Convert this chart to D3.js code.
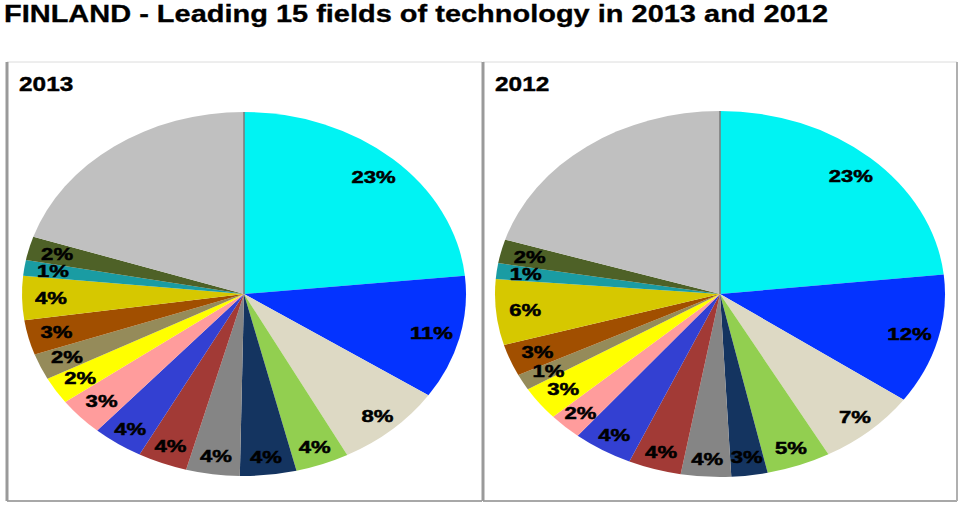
<!DOCTYPE html>
<html>
<head>
<meta charset="utf-8">
<script src="https://cdn.jsdelivr.net/npm/d3@7"></script>
<style>
  body { margin: 0; background: #fff; }
  svg { display: block; font-family: "Liberation Sans", Arial, sans-serif; }
</style>
</head>
<body>
<svg width="960" height="506"></svg>
<script>
// fields in drawing order, clockwise from 12 o'clock; the last one is the unlabelled rest
const fields = ['f1', 'f2', 'f3', 'f4', 'f5', 'f6', 'f7', 'f8', 'f9', 'f10', 'f11', 'f12', 'f13', 'f14', 'f15', 'other'];
const colors = ['#00F3F3', '#0433FF', '#DDD9C4', '#92CF50', '#143460', '#858585', '#A23A36', '#3340D2', '#FF9C9C', '#FFFF00',
  '#958B5A', '#A14F00', '#D6C800', '#1A9CA3', '#4E6127', '#C0C0C0'];

// shares in percent
const values2013 = [23.4, 11.0, 7.9, 3.9, 4.1, 3.9, 3.6, 3.7, 3.4, 2.4, 2.3, 3.1, 3.9, 1.4, 2.1, 19.9];
const values2012 = [23.3, 11.5, 7.2, 4.6, 2.6, 3.6, 3.8, 4.3, 2.4, 3.0, 1.4, 2.8, 5.8, 1.4, 2.1, 20.2];

const title = 'FINLAND - Leading 15 fields of technology in 2013 and 2012';
const years = ['2013', '2012'];

const svg = d3.select('svg');

svg.append('text')
  .attr('x', 4).attr('y', 22)
  .attr('font-size', 23).attr('font-weight', 'bold')
  .attr('stroke', '#000').attr('stroke-width', 0.3)
  .attr('textLength', 824).attr('lengthAdjust', 'spacingAndGlyphs')
  .text(title);

const panels = [
  {year: years[0], values: values2013, x0: 7, x1: 482, cx: 244, cy: 294, rx: 222, ry: 182},
  {year: years[1], values: values2012, x0: 483, x1: 957, cx: 720, cy: 294, rx: 225, ry: 183},
];

const pie = d3.pie().sort(null).value(d => d.v);

panels.forEach((p, pi) => {
  const top = 62, bottom = 501;
  const g = svg.append('g');

  // panel frame
  g.append('line').attr('x1', p.x0).attr('x2', p.x1).attr('y1', top).attr('y2', top)
    .attr('stroke', '#dcdcdc').attr('stroke-width', 1);
  g.append('line').attr('x1', p.x0).attr('x2', p.x1).attr('y1', bottom).attr('y2', bottom)
    .attr('stroke', '#a8a8a8').attr('stroke-width', 2);
  g.append('line').attr('x1', p.x0).attr('x2', p.x0).attr('y1', top).attr('y2', bottom)
    .attr('stroke', '#9a9a9a').attr('stroke-width', 3);
  if (pi === 1) {
    g.append('line').attr('x1', p.x1).attr('x2', p.x1).attr('y1', top).attr('y2', bottom)
      .attr('stroke', '#b0b0b0').attr('stroke-width', 2);
  }

  g.append('text')
    .attr('transform', `translate(${p.x0 + 12}, 91) scale(1.22, 1)`)
    .attr('font-size', 20).attr('font-weight', 'bold')
    .attr('stroke', '#000').attr('stroke-width', 0.4)
    .text(p.year);

  const data = pie(fields.map((f, i) => ({f, v: p.values[i], c: colors[i]})));
  const arc = d3.arc().innerRadius(0).outerRadius(p.rx);

  // elliptic pie: circle of radius rx squashed vertically
  const pg = g.append('g')
    .attr('transform', `translate(${p.cx}, ${p.cy}) scale(1, ${p.ry / p.rx})`);
  pg.selectAll('path').data(data).enter().append('path')
    .attr('d', arc)
    .attr('fill', d => d.data.c);

  // darker edge where the grey rest meets the first slice
  pg.append('line')
    .attr('x1', 0).attr('y1', 0)
    .attr('x2', Math.sin(data[0].startAngle) * p.rx)
    .attr('y2', -Math.cos(data[0].startAngle) * p.rx)
    .attr('stroke', '#7a7a7a').attr('stroke-width', 1.5);

  const fmt = v => `${Math.round(v)}%`;
  const labelled = data.filter(d => d.data.f !== 'other');
  g.selectAll('text.lbl').data(labelled).enter().append('text')
    .attr('class', 'lbl')
    .attr('transform', d => {
      const a = (d.startAngle + d.endAngle) / 2;
      const k = Math.cos(a) < -0.7 ? 0.9 : 0.87;
      const x = p.cx + Math.sin(a) * p.rx * k;
      const y = p.cy - Math.cos(a) * p.ry * k;
      return `translate(${x}, ${y}) scale(1.3, 1)`;
    })
    .attr('text-anchor', 'middle').attr('dy', '0.36em')
    .attr('font-size', 17).attr('font-weight', 'bold')
    .attr('fill', '#000').attr('stroke', '#000').attr('stroke-width', 0.5)
    .text(d => fmt(d.data.v));
});
</script>
</body>
</html>
